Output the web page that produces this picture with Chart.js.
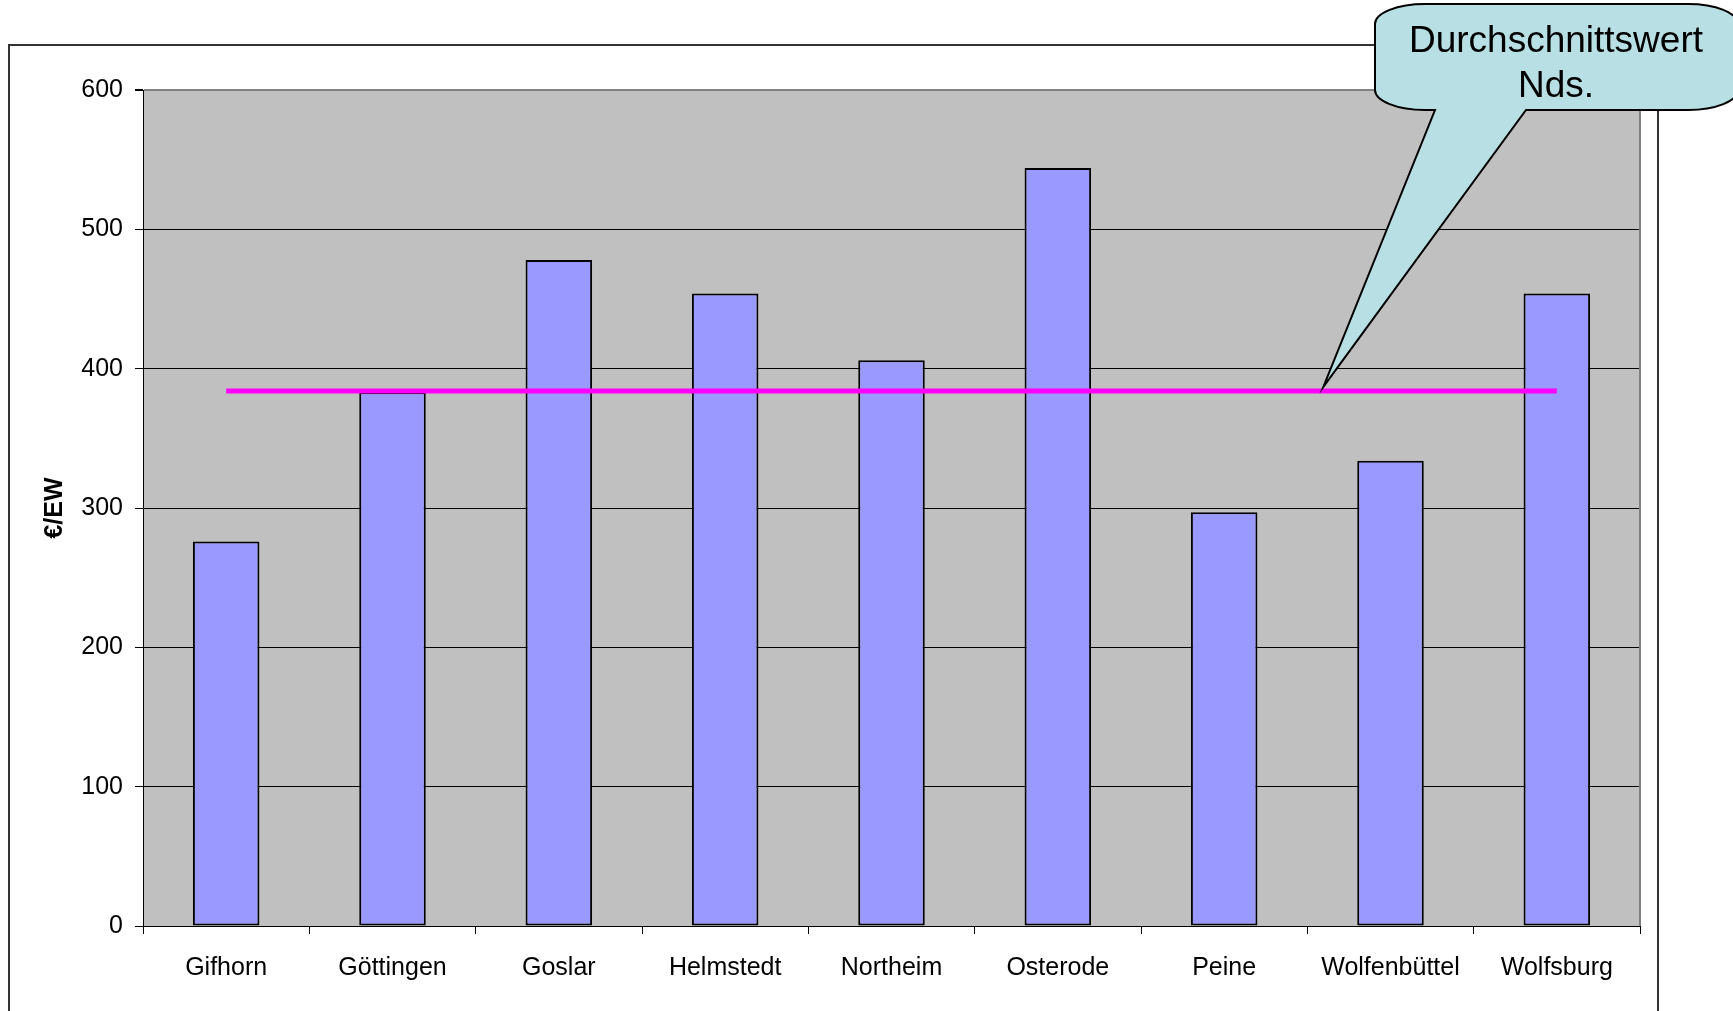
<!DOCTYPE html>
<html>
<head>
<meta charset="utf-8">
<script src="https://cdn.jsdelivr.net/npm/chart.js@4"></script>
<style>
  html, body { margin: 0; padding: 0; background: #fff; }
  canvas { display: block; }
</style>
</head>
<body>
<canvas id="myChart" width="1733" height="1011"></canvas>
<script>
// Daten
const categories = ["Gifhorn", "Göttingen", "Goslar", "Helmstedt", "Northeim", "Osterode", "Peine", "Wolfenbüttel", "Wolfsburg"];
const values = [276, 383, 478, 454, 406, 544, 297, 334, 454];
const average = 384; // Durchschnittswert Nds.
const yTicks = [0, 100, 200, 300, 400, 500, 600];
const calloutLines = ["Durchschnittswert", "Nds."];
const yTitle = "€/EW";

const fontFamily = "'Liberation Sans', Arial, sans-serif";

// Hintergrund, Rahmen und Sprechblase
const decoPlugin = {
    id: "deco",
    beforeDraw(chart) {
        const ctx = chart.ctx;
        const a = chart.chartArea;
        ctx.save();
        ctx.fillStyle = "#fff";
        ctx.fillRect(0, 0, chart.width, chart.height);
        // äußerer Rahmen
        ctx.strokeStyle = "#333";
        ctx.lineWidth = 2;
        ctx.strokeRect(9, 45, 1649, chart.height + 20);
        // Diagrammfläche
        ctx.fillStyle = "#c0c0c0";
        ctx.fillRect(a.left, a.top, a.right - a.left, a.bottom - a.top);
        ctx.restore();
    },
    afterDatasetsDraw(chart) {
        const ctx = chart.ctx;
        const a = chart.chartArea;
        ctx.save();
        // rechter Rand grau
        ctx.strokeStyle = "#808080";
        ctx.lineWidth = 2;
        ctx.beginPath();
        ctx.moveTo(a.right, a.top);
        ctx.lineTo(a.right, a.bottom);
        ctx.stroke();
        ctx.restore();
    },
    afterDraw(chart) {
        const ctx = chart.ctx;
        const x = chart.scales.x;
        const y = chart.scales.y;
        // Spitze zeigt auf die Durchschnittslinie
        const tipX = (x.getPixelForValue(6) + x.getPixelForValue(7)) / 2 + 16;
        const tipY = y.getPixelForValue(average) - 4;
        const left = 1375, right = 1738, top = 4, bottom = 110;
        const rx = 50, ry = 20;
        const b1 = 1435, b2 = 1526;
        ctx.save();
        ctx.beginPath();
        ctx.moveTo(left + rx, top);
        ctx.lineTo(right - rx, top);
        ctx.ellipse(right - rx, top + ry, rx, ry, 0, -Math.PI / 2, 0);
        ctx.lineTo(right, bottom - ry);
        ctx.ellipse(right - rx, bottom - ry, rx, ry, 0, 0, Math.PI / 2);
        ctx.lineTo(b2, bottom);
        ctx.lineTo(tipX, tipY);
        ctx.lineTo(b1, bottom);
        ctx.lineTo(left + rx, bottom);
        ctx.ellipse(left + rx, bottom - ry, rx, ry, 0, Math.PI / 2, Math.PI);
        ctx.lineTo(left, top + ry);
        ctx.ellipse(left + rx, top + ry, rx, ry, 0, Math.PI, Math.PI * 1.5);
        ctx.closePath();
        ctx.fillStyle = "#b8e0e4";
        ctx.fill();
        ctx.strokeStyle = "#000";
        ctx.lineWidth = 2;
        ctx.stroke();

        ctx.fillStyle = "#000";
        ctx.font = "37px " + fontFamily;
        ctx.textAlign = "center";
        ctx.textBaseline = "middle";
        ctx.fillText(calloutLines[0], 1556, 42);
        ctx.fillText(calloutLines[1], 1556, 87);
        ctx.restore();
    }
};

const config = {
    type: "bar",
    data: {
        labels: categories,
        datasets: [
            {
                type: "line",
                label: "Durchschnitt",
                data: categories.map(() => average),
                borderColor: "#ff00ff",
                borderWidth: 5,
                pointRadius: 0,
                fill: false,
                order: 0
            },
            {
                label: yTitle,
                data: values,
                backgroundColor: "#9999ff",
                borderColor: "#000",
                borderWidth: 2,
                borderSkipped: false,
                barPercentage: 0.4,
                categoryPercentage: 1,
                order: 1
            }
        ]
    },
    options: {
        responsive: false,
        devicePixelRatio: 1,
        animation: false,
        layout: { padding: { top: 90, right: 93, left: 0, bottom: 0 } },
        plugins: {
            legend: { display: false },
            tooltip: { enabled: false }
        },
        scales: {
            x: {
                offset: true,
                grid: {
                    offset: true,
                    drawOnChartArea: false,
                    drawTicks: true,
                    tickLength: 8,
                    tickColor: "#000"
                },
                border: { color: "#000", width: 1 },
                ticks: {
                    color: "#000",
                    font: { family: fontFamily, size: 25 },
                    padding: 19,
                    maxRotation: 0,
                    autoSkip: false
                },
                afterFit(scale) { scale.height = 85; }
            },
            y: {
                min: 0,
                max: 600,
                afterBuildTicks(scale) { scale.ticks = yTicks.map(v => ({ value: v })); },
                grid: {
                    color: ctx => (ctx.tick && ctx.tick.value === 600 ? "#808080" : "#000"),
                    lineWidth: ctx => (ctx.tick && ctx.tick.value === 600 ? 2 : 1),
                    tickLength: 8,
                    tickColor: "#000"
                },
                border: { color: "#000", width: 1 },
                ticks: {
                    color: "#000",
                    font: { family: fontFamily, size: 25 },
                    padding: 12
                },
                title: {
                    display: true,
                    text: yTitle,
                    color: "#000",
                    font: { family: fontFamily, size: 25, weight: "bold" },
                    padding: { top: 40, bottom: 0 }
                },
                afterFit(scale) { scale.width = 143; }
            }
        }
    },
    plugins: [decoPlugin]
};

new Chart(document.getElementById("myChart"), config);
</script>
</body>
</html>
